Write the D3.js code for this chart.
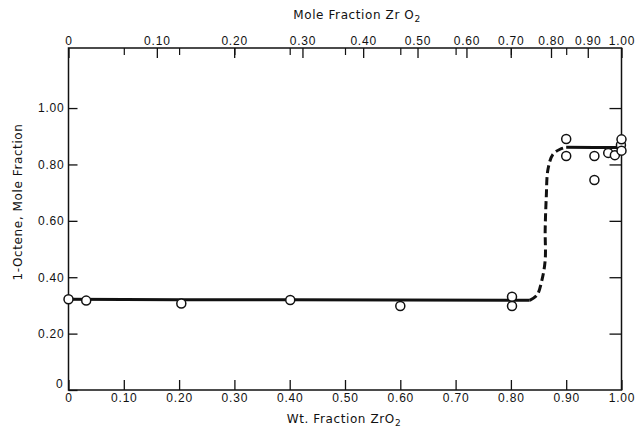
<!DOCTYPE html>
<html>
<head>
<meta charset="utf-8">
<script src="https://cdn.jsdelivr.net/npm/d3@7"></script>
<style>
  body { margin: 0; background: #fff; }
  svg { display: block; font-family: "DejaVu Sans", sans-serif; }
  .tick text { font-size: 12px; fill: #111; letter-spacing: 0.8px; }
  .domain { display: none; }
</style>
</head>
<body>
<div id="chart"></div>
<script>
// measured points: weight fraction ZrO2 vs 1-octene mole fraction
const wtFrac = [0, 0.032, 0.204, 0.401, 0.600, 0.802, 0.802, 0.900, 0.900, 0.951, 0.951, 0.976, 0.988, 0.999, 1.0, 1.0];
const octene = [0.322, 0.317, 0.307, 0.319, 0.298, 0.331, 0.298, 0.890, 0.830, 0.830, 0.745, 0.841, 0.833, 0.869, 0.849, 0.889];

// hand-drawn curve
const lowCurveX = [0, 0.2, 0.4, 0.6, 0.8, 0.834];
const lowCurveY = [0.322, 0.320, 0.320, 0.319, 0.318, 0.318];
const jumpCurveX = [0.834, 0.847, 0.856, 0.862, 0.862, 0.864, 0.867, 0.876, 0.889, 0.900];
const jumpCurveY = [0.318, 0.336, 0.389, 0.461, 0.568, 0.686, 0.782, 0.836, 0.854, 0.861];
const highCurveX = [0.900, 0.95, 1.0];
const highCurveY = [0.861, 0.860, 0.860];

const wtTicks = [0, 0.1, 0.2, 0.3, 0.4, 0.5, 0.6, 0.7, 0.8, 0.9, 1.0];
const yTicks = [0, 0.2, 0.4, 0.6, 0.8, 1.0];
const moleTicks = [0, 0.1, 0.2, 0.3, 0.4, 0.5, 0.6, 0.7, 0.8, 0.9, 1.0];
const molarRatio = 1.711; // M(ZrO2) / M(other), from the top scale

const svgWidth = 638, svgHeight = 427;
const frame = { left: 68.5, right: 621.5, top: 48, bottom: 390 };

const svg = d3.select('#chart').append('svg')
    .attr('width', svgWidth)
    .attr('height', svgHeight);

const x = d3.scaleLinear().domain([0, 1]).range([frame.left, frame.right]);
const y = d3.scaleLinear().domain([0, 1.213]).range([frame.bottom, frame.top]);

const moleToWt = m => (m * molarRatio) / (m * molarRatio + 1 - m);

// frame
svg.append('rect')
    .attr('x', frame.left).attr('y', frame.top)
    .attr('width', frame.right - frame.left).attr('height', frame.bottom - frame.top)
    .attr('fill', 'none').attr('stroke', '#111').attr('stroke-width', 1.5);

// bottom axis
const fmt = d => d === 0 ? '0' : d3.format('.2f')(d);
svg.append('g')
    .attr('transform', `translate(0, ${frame.bottom})`)
    .call(d3.axisBottom(x).tickValues(wtTicks).tickFormat(fmt).tickSizeInner(-10).tickSizeOuter(0).tickPadding(3))
    .call(g => g.selectAll('line').attr('stroke', '#111').attr('stroke-width', 1.3));

// left axis
svg.append('g')
    .attr('transform', `translate(${frame.left}, 0)`)
    .call(d3.axisLeft(y).tickValues(yTicks).tickFormat(fmt).tickSizeInner(-9).tickSizeOuter(0).tickPadding(4))
    .call(g => g.selectAll('line').attr('stroke', '#111').attr('stroke-width', 1.3))
    .call(g => g.selectAll('.tick').filter(d => d === 0).select('text').attr('dy', '-0.2em').attr('dx', '-1'));

// right axis ticks
svg.append('g')
    .attr('transform', `translate(${frame.right}, 0)`)
    .call(d3.axisRight(y).tickValues(yTicks.slice(1)).tickFormat('').tickSizeInner(-12).tickSizeOuter(0))
    .call(g => g.selectAll('line').attr('stroke', '#111').attr('stroke-width', 1.3));

// top axis: weight-fraction ticks, then mole-fraction ticks with labels
svg.append('g')
    .attr('transform', `translate(0, ${frame.top})`)
    .call(d3.axisTop(x).tickValues(wtTicks.slice(1, -1)).tickFormat('').tickSizeInner(-7).tickSizeOuter(0))
    .call(g => g.selectAll('line').attr('stroke', '#111').attr('stroke-width', 1.2));

svg.append('g')
    .attr('transform', `translate(0, ${frame.top})`)
    .call(d3.axisTop(x).tickValues(moleTicks.map(moleToWt)).tickFormat((d, i) => fmt(moleTicks[i]))
        .tickSizeInner(-10).tickSizeOuter(0).tickPadding(3))
    .call(g => g.selectAll('line').attr('stroke', '#111').attr('stroke-width', 1.3));

// curves
const line = d3.line().x(d => x(d[0])).y(d => y(d[1]));
const zip = (a, b) => a.map((v, i) => [v, b[i]]);

svg.append('path').datum(zip(lowCurveX, lowCurveY))
    .attr('d', line).attr('fill', 'none').attr('stroke', '#111').attr('stroke-width', 3);
svg.append('path').datum(zip(jumpCurveX, jumpCurveY))
    .attr('d', d3.line().curve(d3.curveCatmullRom).x(d => x(d[0])).y(d => y(d[1])))
    .attr('fill', 'none').attr('stroke', '#111').attr('stroke-width', 3)
    .attr('stroke-dasharray', '8,4');
svg.append('path').datum(zip(highCurveX, highCurveY))
    .attr('d', line).attr('fill', 'none').attr('stroke', '#111').attr('stroke-width', 3);

// points
svg.selectAll('.pt')
    .data(zip(wtFrac, octene))
    .enter().append('circle')
    .attr('class', 'pt')
    .attr('cx', d => x(d[0]))
    .attr('cy', d => y(d[1]))
    .attr('r', 4.5)
    .attr('fill', '#fff')
    .attr('stroke', '#111')
    .attr('stroke-width', 1.5);

// titles
const title = (tx, ty, label, rotate) => {
    const t = svg.append('text')
        .attr('x', tx).attr('y', ty)
        .attr('text-anchor', 'middle')
        .attr('font-size', 12)
        .attr('letter-spacing', 0.6)
        .attr('fill', '#111');
    if (rotate) t.attr('transform', `rotate(-90, ${tx}, ${ty})`);
    t.text(label);
    return t;
};

const topTitle = title(357, 19, 'Mole Fraction  Zr O');
topTitle.append('tspan').attr('font-size', 9).attr('dy', 3).text('2');

const bottomTitle = title(344, 423, 'Wt.  Fraction  ZrO');
bottomTitle.append('tspan').attr('font-size', 9).attr('dy', 3).text('2');

title(22, 202, '1-Octene,  Mole Fraction', true);
</script>
</body>
</html>
